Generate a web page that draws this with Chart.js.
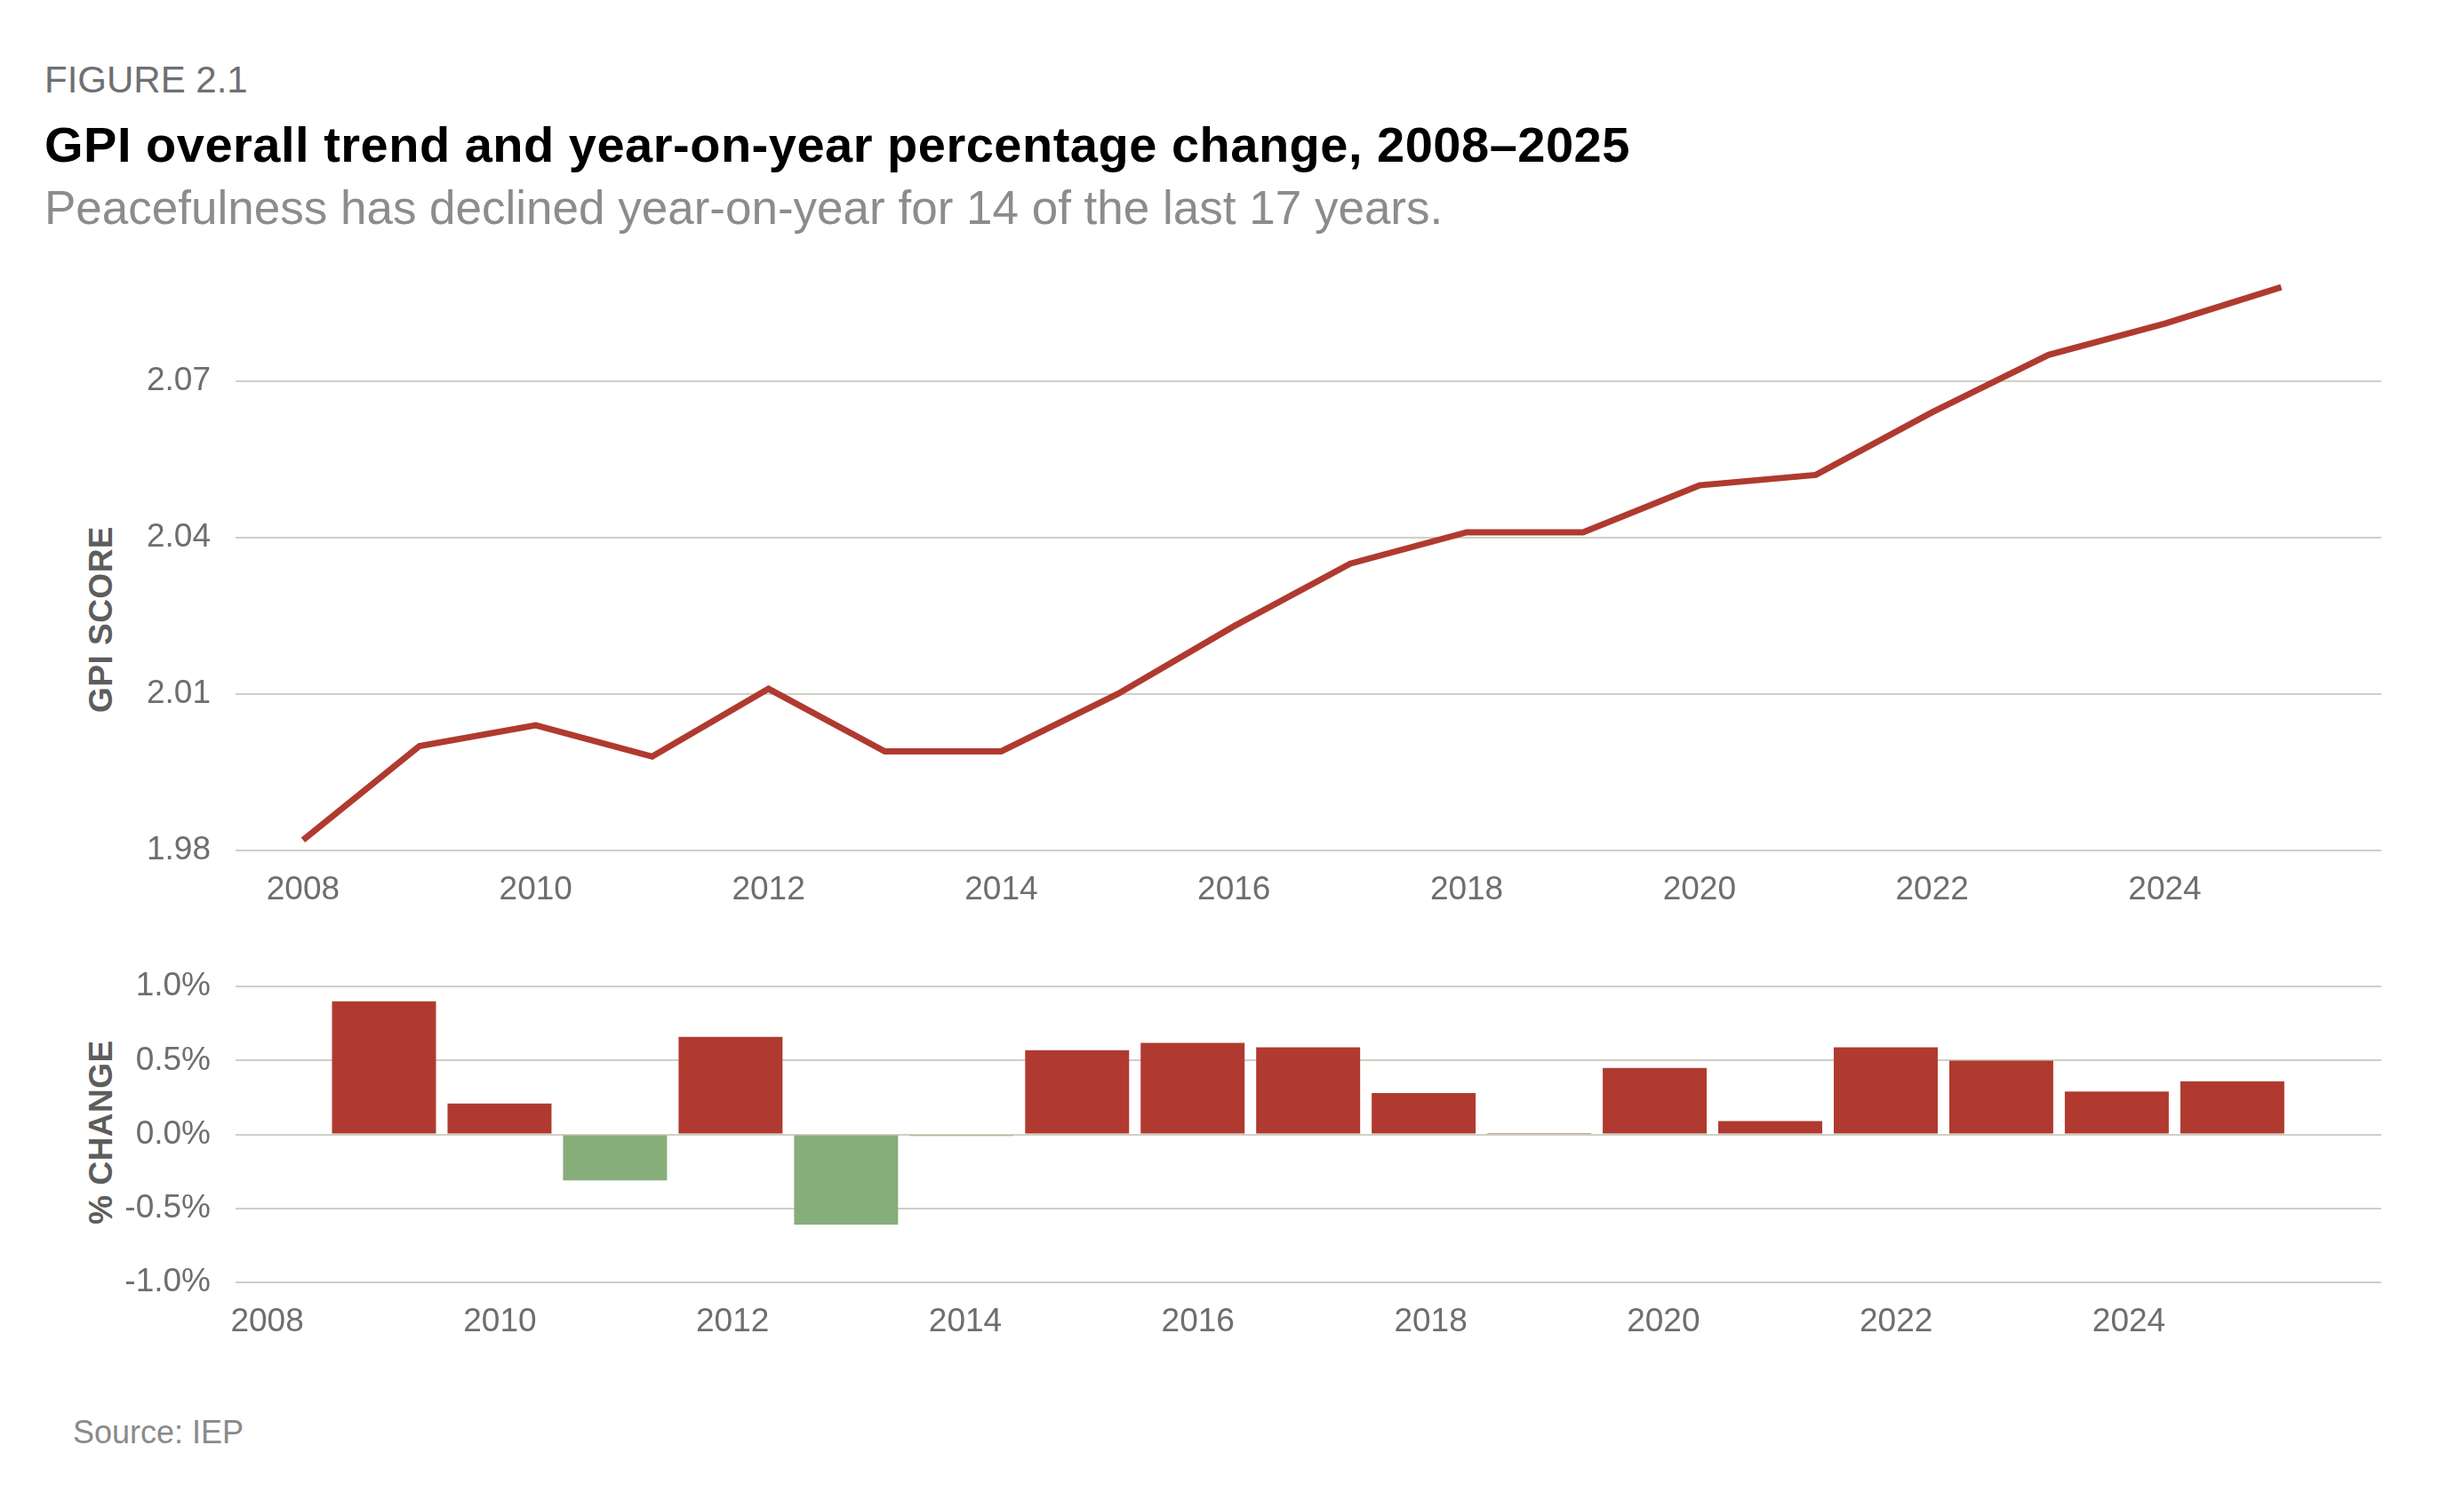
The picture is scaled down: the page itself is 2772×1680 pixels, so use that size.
<!DOCTYPE html>
<html>
<head>
<meta charset="utf-8">
<script src="https://cdn.jsdelivr.net/npm/chart.js@4/dist/chart.umd.min.js"></script>
<style>
  html, body { margin: 0; padding: 0; background: #ffffff; }
  body { width: 2772px; height: 1680px; position: relative; overflow: hidden; font-family: 'Liberation Sans', Arial, Helvetica, sans-serif; }
  .txt { position: absolute; white-space: nowrap; line-height: 1; }
  #fig { left: 50px; top: 69px; font-size: 42px; color: #6f6f73; }
  #title { left: 50px; top: 135px; font-size: 56px; font-weight: bold; color: #000; letter-spacing: 0.5px; }
  #subtitle { left: 50px; top: 207px; font-size: 53px; color: #8c8c8c; }
  #source { left: 82px; top: 1594px; font-size: 36px; color: #8a8a8a; }
  .ytitle { position: absolute; white-space: nowrap; line-height: 1; font-size: 37px; font-weight: bold; color: #5d5d5d;
            transform: translate(-50%, -50%) rotate(-90deg); letter-spacing: 0.5px; }
  #yt1 { left: 113px; top: 697px; }
  #yt2 { left: 113px; top: 1274px; }
  canvas { position: absolute; left: 0; }
  #c1 { top: 0; }
  #c2 { top: 1060px; }
</style>
</head>
<body>
<div class="txt" id="fig">FIGURE 2.1</div>
<div class="txt" id="title">GPI overall trend and year-on-year percentage change, 2008–2025</div>
<div class="txt" id="subtitle">Peacefulness has declined year-on-year for 14 of the last 17 years.</div>
<div class="ytitle" id="yt1">GPI SCORE</div>
<div class="ytitle" id="yt2">% CHANGE</div>
<div class="txt" id="source">Source: IEP</div>
<canvas id="c1" width="2772" height="1060" style="width:2772px;height:1060px"></canvas>
<canvas id="c2" width="2772" height="620" style="width:2772px;height:620px"></canvas>
<script>
// ---- Data ----
const years = [2008, 2009, 2010, 2011, 2012, 2013, 2014, 2015, 2016, 2017, 2018, 2019, 2020, 2021, 2022, 2023, 2024, 2025];
const gpiScore = [1.982, 2.000, 2.004, 1.998, 2.011, 1.999, 1.999, 2.010, 2.023, 2.035, 2.041, 2.041, 2.050, 2.052, 2.064, 2.075, 2.081, 2.088];
const changeYears = [2009, 2010, 2011, 2012, 2013, 2014, 2015, 2016, 2017, 2018, 2019, 2020, 2021, 2022, 2023, 2024, 2025];
const pctChange = [0.90, 0.21, -0.31, 0.66, -0.61, -0.01, 0.57, 0.62, 0.59, 0.28, 0.01, 0.45, 0.09, 0.59, 0.50, 0.29, 0.36];
const yearTicks = [2008, 2010, 2012, 2014, 2016, 2018, 2020, 2022, 2024];
const gpiTicks = [1.98, 2.01, 2.04, 2.07];
const pctTicks = [-1.0, -0.5, 0.0, 0.5, 1.0];

// ---- Styles ----
const RED = '#b03a2f';
const GREEN = '#86ad7a';
const GRID = '#cfd0c5';
const TICK = '#6e6e6e';
Chart.defaults.font.family = "'Liberation Sans', Arial, Helvetica, sans-serif";

function setTicks(list) {
  return function (scale) { scale.ticks = list.map(v => ({ value: v })); };
}

// ---- Line chart: GPI score ----
new Chart(document.getElementById('c1'), {
  type: 'line',
  data: {
    datasets: [{
      data: years.map((y, i) => ({ x: y, y: gpiScore[i] })),
      borderColor: RED,
      borderWidth: 7,
      pointRadius: 0,
      tension: 0,
      fill: false
    }]
  },
  options: {
    responsive: false,
    animation: false,
    layout: { padding: { left: 0, right: 93, top: 282, bottom: 0 } },
    plugins: { legend: { display: false }, tooltip: { enabled: false } },
    scales: {
      x: {
        type: 'linear',
        min: 2007.42,
        max: 2025.86,
        afterBuildTicks: setTicks(yearTicks),
        afterFit: (s) => { s.height = 103; },
        grid: { display: false },
        border: { display: false },
        ticks: { color: TICK, font: { size: 37 }, padding: 15, maxRotation: 0, autoSkip: false,
                 callback: (v) => String(v) }
      },
      y: {
        min: 1.98,
        max: 2.095,
        afterBuildTicks: setTicks(gpiTicks),
        afterFit: (s) => { s.width = 265; },
        grid: { color: GRID, lineWidth: 2, drawTicks: false },
        border: { display: false },
        ticks: { color: TICK, font: { size: 37 }, padding: 28, callback: (v) => v.toFixed(2) }
      }
    }
  }
});

// ---- Bar chart: % change ----
new Chart(document.getElementById('c2'), {
  type: 'bar',
  data: {
    datasets: [{
      data: changeYears.map((y, i) => ({ x: y, y: pctChange[i] })),
      xAxisID: 'xb',
      backgroundColor: (ctx) => (pctChange[ctx.dataIndex] < 0 ? GREEN : RED),
      borderWidth: 0,
      categoryPercentage: 1.0,
      barPercentage: 0.9
    }]
  },
  options: {
    responsive: false,
    animation: false,
    layout: { padding: { left: 0, right: 93, top: 45, bottom: 0 } },
    plugins: { legend: { display: false }, tooltip: { enabled: false } },
    scales: {
      xb: {
        type: 'linear',
        display: false,
        offset: false,
        min: 2007.715,
        max: 2026.29
      },
      x: {
        type: 'linear',
        position: 'bottom',
        offset: false,
        min: 2007.728,
        max: 2026.17,
        afterBuildTicks: setTicks(yearTicks),
        afterFit: (s) => { s.height = 237; },
        grid: { display: false },
        border: { display: false },
        ticks: { color: TICK, font: { size: 37 }, padding: 15, maxRotation: 0, autoSkip: false,
                 callback: (v) => String(v) }
      },
      y: {
        min: -1,
        max: 1,
        afterBuildTicks: setTicks(pctTicks),
        afterFit: (s) => { s.width = 265; },
        grid: { color: GRID, lineWidth: 2, drawTicks: false },
        border: { display: false },
        ticks: { color: TICK, font: { size: 37 }, padding: 28, callback: (v) => v.toFixed(1) + '%' }
      }
    }
  }
});
</script>
</body>
</html>
